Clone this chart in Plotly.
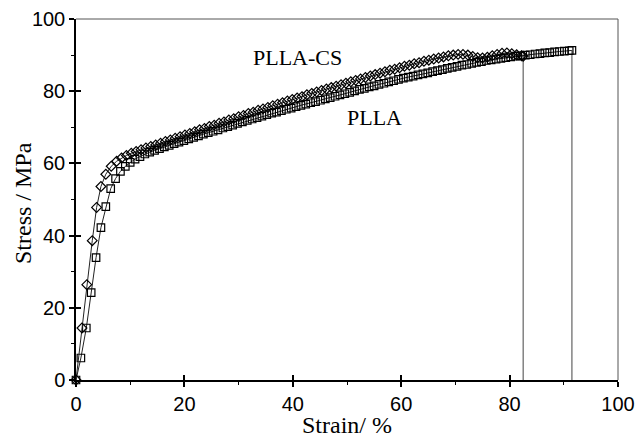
import plotly.graph_objects as go

# ---- data ----
plla_strain = [0, 0.9, 1.9, 2.8, 3.7, 4.6, 5.5, 6.4, 7.3, 8.2, 9.1, 10.0, 10.9, 11.8, 12.7, 13.6,
               14.5, 15.4, 16.3, 17.2, 18.1, 19.0, 19.9, 20.8, 21.7, 22.6, 23.5, 24.4, 25.3, 26.2,
               27.1, 28.0, 28.9, 29.8, 30.7, 31.6, 32.5, 33.4, 34.3, 35.2, 36.1, 37.0, 37.9, 38.8,
               39.7, 40.6, 41.5, 42.4, 43.3, 44.2, 45.1, 46.0, 46.9, 47.8, 48.7, 49.6, 50.5, 51.4,
               52.3, 53.2, 54.1, 55.0, 55.9, 56.8, 57.7, 58.6, 59.5, 60.4, 61.3, 62.2, 63.1, 64.0,
               64.9, 65.8, 66.7, 67.6, 68.5, 69.4, 70.3, 71.2, 72.1, 73.0, 73.9, 74.8, 75.7, 76.6,
               77.5, 78.4, 79.3, 80.2, 81.1, 82.0, 82.9, 83.8, 84.7, 85.6, 86.5, 87.4, 88.3, 89.2,
               90.1, 91.0, 91.5]
plla_stress = [0, 6.1, 14.4, 24.2, 33.9, 42.2, 48.0, 53.0, 55.8, 57.8, 59.2, 60.3, 61.2, 61.9, 62.6, 63.1,
               63.6, 64.1, 64.6, 65.0, 65.5, 65.9, 66.3, 66.8, 67.2, 67.6, 68.1, 68.5, 68.9, 69.3,
               69.8, 70.2, 70.6, 71.1, 71.5, 71.9, 72.3, 72.7, 73.1, 73.5, 73.9, 74.2, 74.6, 75.0,
               75.3, 75.7, 76.1, 76.4, 76.8, 77.1, 77.5, 77.9, 78.2, 78.6, 79.0, 79.3, 79.7, 80.1,
               80.5, 80.8, 81.2, 81.5, 81.9, 82.2, 82.6, 82.9, 83.3, 83.6, 83.9, 84.2, 84.5, 84.8,
               85.1, 85.4, 85.7, 86.0, 86.3, 86.6, 86.9, 87.2, 87.4, 87.7, 88.0, 88.2, 88.5, 88.7,
               88.9, 89.1, 89.3, 89.5, 89.7, 89.8, 90.0, 90.1, 90.3, 90.4, 90.6, 90.7, 90.9, 91.0,
               91.1, 91.2, 91.3]

cs_strain = [0, 1.1, 2.0, 3.0, 3.8, 4.6, 5.5, 6.5, 7.5, 8.4, 9.3, 10.2, 11.1, 12.0, 12.9, 13.8,
             14.7, 15.6, 16.5, 17.4, 18.3, 19.2, 20.1, 21.0, 21.9, 22.8, 23.7, 24.6, 25.5, 26.4,
             27.3, 28.2, 29.1, 30.0, 30.9, 31.8, 32.7, 33.6, 34.5, 35.4, 36.3, 37.2, 38.1, 39.0,
             39.9, 40.8, 41.7, 42.6, 43.5, 44.4, 45.3, 46.2, 47.1, 48.0, 48.9, 49.8, 50.7, 51.6,
             52.5, 53.4, 54.3, 55.2, 56.1, 57.0, 57.9, 58.8, 59.7, 60.6, 61.5, 62.4, 63.3, 64.2,
             65.1, 66.0, 66.9, 67.8, 68.7, 69.6, 70.5, 71.4, 72.3, 73.2, 74.1, 75.0, 75.9, 76.8,
             77.7, 78.6, 79.5, 80.4, 81.3, 82.2, 82.5]
cs_stress = [0, 14.4, 26.4, 38.6, 47.8, 53.6, 57.0, 59.2, 60.6, 61.5, 62.2, 62.8, 63.3, 63.8, 64.3, 64.7,
             65.1, 65.6, 66.1, 66.5, 67.0, 67.4, 67.9, 68.3, 68.8, 69.3, 69.7, 70.2, 70.6, 71.1,
             71.5, 72.0, 72.4, 72.9, 73.3, 73.8, 74.2, 74.7, 75.1, 75.5, 76.0, 76.4, 76.8, 77.3,
             77.7, 78.1, 78.5, 79.0, 79.4, 79.8, 80.2, 80.6, 81.0, 81.4, 81.8, 82.2, 82.6, 83.0,
             83.4, 83.8, 84.2, 84.6, 85.0, 85.4, 85.8, 86.1, 86.5, 86.9, 87.2, 87.6, 87.9, 88.3,
             88.6, 88.9, 89.2, 89.5, 89.8, 90.0, 90.2, 90.2, 90.0, 89.6, 89.3, 89.2, 89.4, 89.8,
             90.2, 90.5, 90.6, 90.4, 90.1, 89.8, 89.7]

series_names = ["PLLA", "PLLA-CS"]
tick_vals = [0, 20, 40, 60, 80, 100]

LINE_COL = "#222222"

fig = go.Figure()

def add_series(xs, ys, symbol, size):
    # curve through the points
    fig.add_trace(go.Scatter(x=xs, y=ys, mode="lines",
                             line=dict(color=LINE_COL, width=1), showlegend=False,
                             cliponaxis=False))
    # fracture drop to zero
    fig.add_trace(go.Scatter(x=[xs[-1], xs[-1]], y=[ys[-1], 0], mode="lines",
                             line=dict(color="#444444", width=1), showlegend=False))
    # open markers
    fig.add_trace(go.Scatter(x=xs, y=ys, mode="markers",
                             marker=dict(symbol=symbol, size=size, color="black",
                                         line=dict(width=1.2, color="black")),
                             showlegend=False, cliponaxis=False))

add_series(plla_strain, plla_stress, "square-open", 7.5)
add_series(cs_strain, cs_stress, "diamond-open", 7.5)

# invisible trace for the overlay axes (inside half of crossing ticks)
fig.add_trace(go.Scatter(x=[0], y=[0], xaxis="x2", yaxis="y2", mode="markers",
                         marker=dict(opacity=0), showlegend=False, hoverinfo="skip"))

tickfont = dict(family="Liberation Sans, Arial, sans-serif", size=20, color="black")
common = dict(range=[0, 100], tickvals=tick_vals, showgrid=False, zeroline=False,
              automargin=False)

fig.update_layout(
    width=636, height=439,
    margin=dict(l=76, r=18, t=19, b=59, autoexpand=False),
    paper_bgcolor="white", plot_bgcolor="white",
    xaxis=dict(**common, showline=True, linecolor="black", linewidth=1.5,
               ticks="outside", ticklen=5, tickwidth=1.5, tickcolor="black",
               minor=dict(dtick=10, ticks="outside", ticklen=3, tickwidth=1.2, tickcolor="black"),
               tickfont=tickfont),
    yaxis=dict(**common, showline=True, linecolor="black", linewidth=1.5,
               ticks="outside", ticklen=5, tickwidth=1.5, tickcolor="black",
               minor=dict(dtick=10, ticks="outside", ticklen=3, tickwidth=1.2, tickcolor="black"),
               tickfont=tickfont),
    xaxis2=dict(**common, overlaying="x", anchor="y", side="bottom", showline=False,
                ticks="inside", ticklen=5, tickwidth=1.5, tickcolor="black",
                showticklabels=False),
    yaxis2=dict(**common, overlaying="y", anchor="x", side="left", showline=False,
                ticks="inside", ticklen=5, tickwidth=1.5, tickcolor="black",
                showticklabels=False),
    shapes=[
        dict(type="line", xref="paper", yref="paper", x0=0, x1=1, y0=1, y1=1,
             line=dict(color="#555555", width=1)),
        dict(type="line", xref="paper", yref="paper", x0=1, x1=1, y0=0, y1=1,
             line=dict(color="#555555", width=1)),
    ],
    annotations=[
        dict(text=series_names[1], x=40.8, y=89.2, xref="x", yref="y", showarrow=False,
             font=dict(family="Liberation Serif, Times New Roman, serif", size=22, color="black")),
        dict(text=series_names[0], x=55.0, y=72.8, xref="x", yref="y", showarrow=False,
             font=dict(family="Liberation Serif, Times New Roman, serif", size=22, color="black")),
        dict(text="Strain/ %", x=0.5, y=-0.125, xref="paper", yref="paper", showarrow=False,
             xanchor="center", yanchor="middle",
             font=dict(family="Liberation Serif, Times New Roman, serif", size=24, color="black")),
        dict(text="Stress / MPa", x=-0.098, y=0.49, xref="paper", yref="paper", showarrow=False,
             textangle=-90, xanchor="center", yanchor="middle",
             font=dict(family="Liberation Serif, Times New Roman, serif", size=24, color="black")),
    ],
)

fig.write_html("out.html")
